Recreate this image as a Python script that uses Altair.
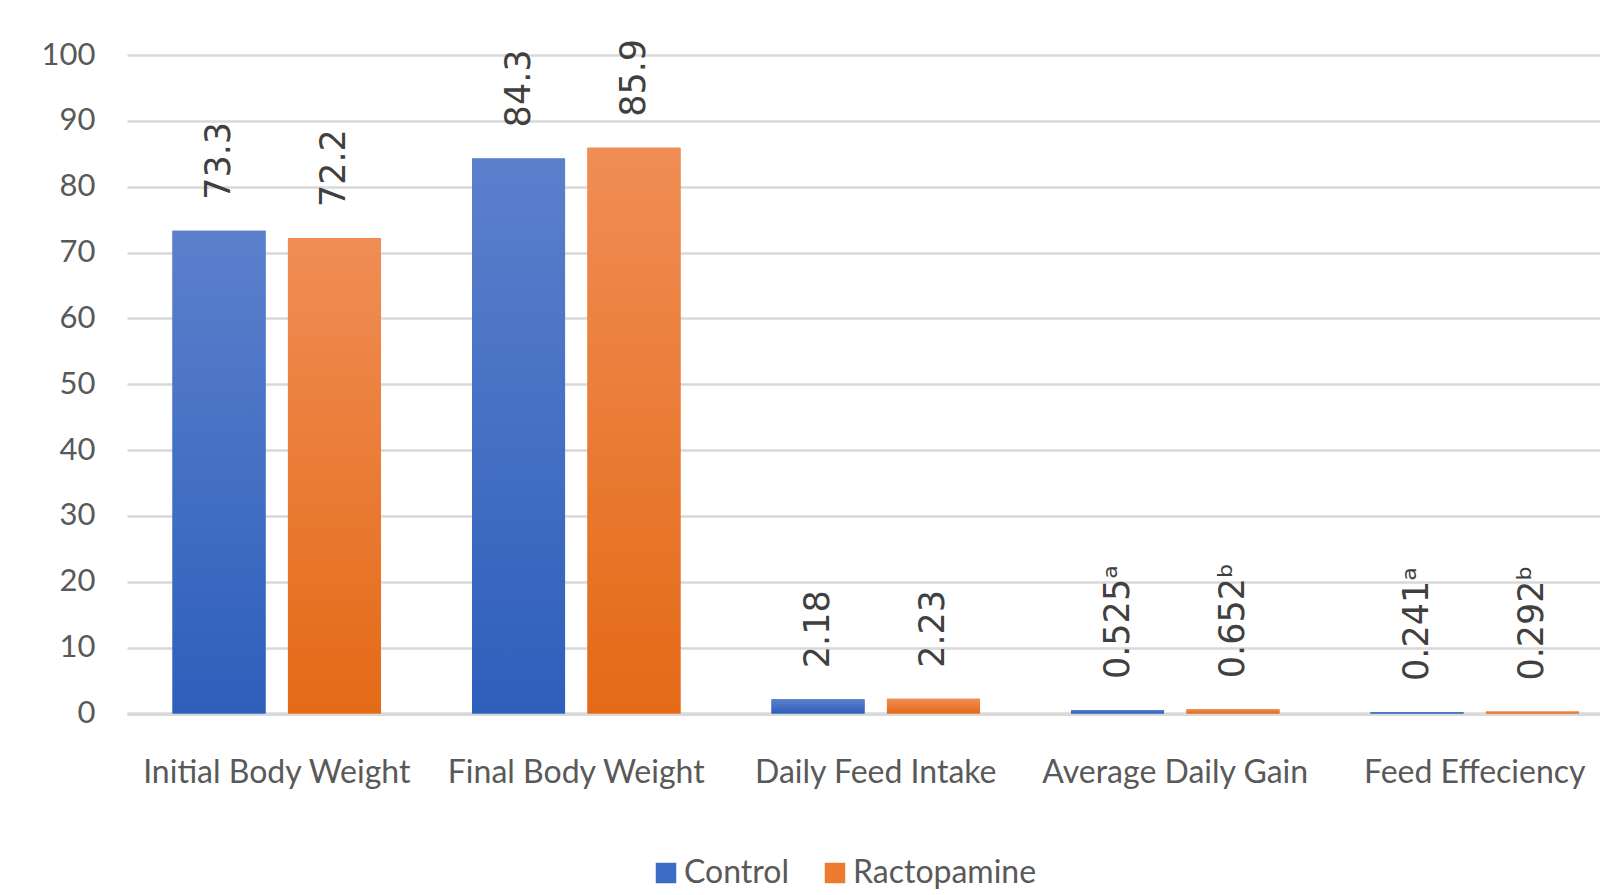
import altair as alt
import pandas as pd

# Growth performance values per treatment
categories = [
    "Initial Body Weight",
    "Final Body Weight",
    "Daily Feed Intake",
    "Average Daily Gain",
    "Feed Effeciency",
]
series = ["Control", "Ractopamine"]
control = [73.3, 84.3, 2.18, 0.525, 0.241]
ractopamine = [72.2, 85.9, 2.23, 0.652, 0.292]
# significance letters shown as superscripts after the value
control_sig = ["", "", "", "a", "a"]
ractopamine_sig = ["", "", "", "b", "b"]
y_ticks = list(range(0, 101, 10))

SUPERSCRIPT = {"": "", "a": "\u1d43", "b": "\u1d47"}

rows = []
for cat, c, r, cs, rs in zip(categories, control, ractopamine, control_sig, ractopamine_sig):
    rows.append({"Category": cat, "Series": "Control", "Value": c,
                 "Label": f"{c:g}{SUPERSCRIPT[cs]}"})
    rows.append({"Category": cat, "Series": "Ractopamine", "Value": r,
                 "Label": f"{r:g}{SUPERSCRIPT[rs]}"})
df = pd.DataFrame(rows)

TEXT_FONT = "Lato, Liberation Sans, sans-serif"
GRID = "#d9d9d9"

x_enc = alt.X(
    "Category:N",
    sort=categories,
    scale=alt.Scale(range=[0, 1497.5], paddingInner=0.3038, paddingOuter=0.1519),
    axis=alt.Axis(
        title=None, labelAngle=0, ticks=False, domain=True,
        domainColor=GRID, domainWidth=3.5,
        labelFont=TEXT_FONT, labelFontSize=32, labelColor="#595959",
        labelPadding=44, labelLimit=0,
    ),
)
xoff_enc = alt.XOffset(
    "Series:N", sort=series,
    scale=alt.Scale(domain=series, paddingInner=0.194, paddingOuter=0),
)
y_enc = alt.Y(
    "Value:Q",
    scale=alt.Scale(domain=[0, 100], nice=False),
    axis=alt.Axis(
        values=y_ticks, title=None, ticks=False, domain=False,
        grid=True, gridColor=GRID, gridWidth=2.5,
        labelFont=TEXT_FONT, labelFontSize=31, labelColor="#595959",
        labelPadding=32,
    ),
)

base = alt.Chart(df).encode(x=x_enc, xOffset=xoff_enc, y=y_enc)

# solid bars carry the colour legend
solid = base.mark_bar().encode(
    color=alt.Color(
        "Series:N",
        scale=alt.Scale(domain=series, range=["#3d6cc6", "#ec7a2f"]),
        legend=alt.Legend(
            title=None, orient="none", legendX=523, legendY=802,
            direction="horizontal", symbolType="square", symbolSize=420,
            symbolStrokeWidth=0, labelFont=TEXT_FONT, labelFontSize=32,
            labelColor="#595959", labelOffset=2, columnPadding=30, padding=0,
            labelLimit=0,
        ),
    )
)


def gradient(top, bottom):
    return alt.Gradient(
        gradient="linear", x1=0, x2=0, y1=0, y2=1,
        stops=[alt.GradientStop(color=top, offset=0),
               alt.GradientStop(color=bottom, offset=1)],
    )


blue_bars = base.transform_filter(alt.datum.Series == "Control").mark_bar(
    fill=gradient("#5b80cc", "#2e5fbb")
)
orange_bars = base.transform_filter(alt.datum.Series == "Ractopamine").mark_bar(
    fill=gradient("#f08d55", "#e46a16")
)

labels = base.mark_text(
    angle=270, align="left", baseline="middle", dx=31,
    font="DejaVu Sans", fontSize=35, color="#404040",
).encode(text="Label:N")

chart = (
    alt.layer(solid, blue_bars, orange_bars, labels)
    .properties(
        width=1473,
        height=658.5,
        padding={"left": 127, "top": 55, "right": 0, "bottom": 181.5},
        autosize=alt.AutoSizeParams(type="none"),
        background="white",
    )
    .configure_view(stroke=None)
)

chart.save("out.html", embed_options={"renderer": "svg", "actions": False})
